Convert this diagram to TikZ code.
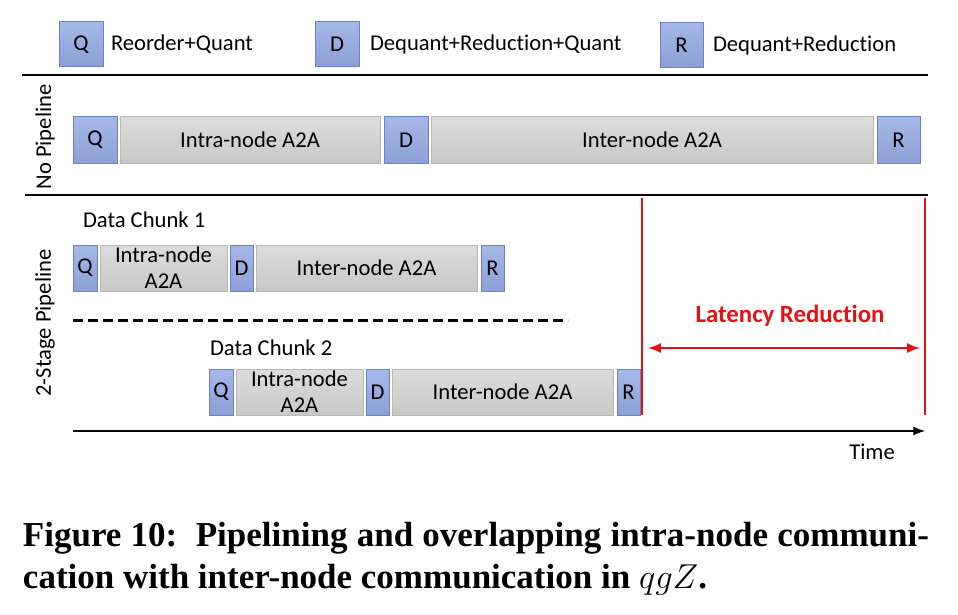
\documentclass[tikz,border=0pt]{standalone}
\usepackage{fontspec}
\setmainfont{Carlito}[Ligatures=NoCommon]
\newfontfamily\capfont{Liberation Serif}
\usepackage{tikz}
\usetikzlibrary{positioning}
\definecolor{optop}{RGB}{166,184,232}
\definecolor{opbot}{RGB}{140,160,215}
\definecolor{opline}{RGB}{105,130,196}
\definecolor{commtop}{RGB}{220,220,220}
\definecolor{commbot}{RGB}{200,200,200}
\definecolor{commline}{RGB}{184,184,184}
\definecolor{latred}{RGB}{232,16,16}
\newcommand\lblfont{\fontsize{11.3}{13}\selectfont}
\tikzset{every picture/.style={line width=1pt},
  opbox/.style={draw=opline,top color=optop,bottom color=opbot,line width=0.5pt,minimum height=23pt,inner sep=0pt,outer sep=0pt},
  commbox/.style={draw=commline,top color=commtop,bottom color=commbot,line width=0.5pt,minimum height=23pt,inner sep=0pt,outer sep=0pt,align=center}}

\begin{document}
\begin{tikzpicture}[x=0.5pt,y=-0.5pt,font=\lblfont]
\useasboundingbox (0,0) rectangle (958,615);
% legend
\node (lq) [opbox, minimum width=22pt, minimum height=22.5pt] at (81,44.5) {Q};
\node (lqt) [right=3.5pt of lq, inner sep=0pt] {Reorder+Quant};
\node (ld) [opbox, minimum width=22pt, minimum height=22.5pt] at (337,44) {D};
\node (ldt) [right=5pt of ld, inner sep=0pt] {Dequant+Reduction+Quant};
\node (lr) [opbox, minimum width=21.5pt, minimum height=22.5pt] at (681.5,45) {R};
\node (lrt) [right=4.5pt of lr, inner sep=0pt] {Dequant+Reduction};

\draw (22,75) -- (928,75);
\draw (25,195) -- (928,195);

% no pipeline
\node (nopipe) [rotate=90] at (45,137) {No Pipeline};
\node (q0) [opbox, minimum width=22pt] at (95,140) {Q};
\node (intra0) [commbox, right=1.5pt of q0, minimum width=130pt] {Intra-node A2A};
\node (d0) [opbox, right=2pt of intra0, minimum width=22pt] {D};
\node (inter0) [commbox, right=1.5pt of d0, minimum width=221pt] {Inter-node A2A};
\node (r0) [opbox, right=2pt of inter0, minimum width=21.5pt] {R};

% 2-stage pipeline
\node (twostage) [rotate=90] at (45,323) {2-Stage Pipeline};
\node (chunk1) [anchor=west, inner sep=0pt] at (82,220) {Data Chunk 1};
\node (chunk2) [anchor=west, inner sep=0pt] at (209,348) {Data Chunk 2};
\foreach \i/\x/\y in {1/85/268,2/221/392} {
  \node (q\i) [opbox, minimum width=12pt] at (\x,\y) {Q};
  \node (intra\i) [commbox, right=1.5pt of q\i, minimum width=63.5pt] {Intra-node\\A2A};
  \node (d\i) [opbox, right=1.5pt of intra\i, minimum width=11.5pt] {D};
  \node (inter\i) [commbox, right=1.5pt of d\i, minimum width=110.5pt] {Inter-node A2A};
  \node (r\i) [opbox, right=2pt of inter\i, minimum width=11.5pt] {R};
}
\coordinate (dash0) at (73,320);
\coordinate (dash1) at (568,320);
\draw[line width=1.5pt, dash pattern=on 5pt off 2.5pt] (dash0) -- (dash1);

% latency reduction
\coordinate (lat0) at (642,198);
\coordinate (lat1) at (925,198);
\draw[latred, line width=1.25pt] (lat0) -- (lat0 |- r2.south);
\draw[latred, line width=1.25pt] (lat1) -- (lat1 |- r2.south);
\coordinate (arr0) at (648,348);
\coordinate (arr1) at (920,348);
\draw[latex-latex, latred, line width=1.2pt] (arr0) -- (arr1);
\node (lat) [text=latred, font=\fontsize{12.4}{14}\selectfont\bfseries] at (790,316) {Latency Reduction};

% time axis
\coordinate (t0) at (73,431);
\coordinate (t1) at (925,431);
\draw[-latex] (t0) -- (t1);
\node (time) at (872,452) {Time};

% caption
\node (cap) [anchor=north west, text width=453pt, align=justify, inner sep=0pt, font=\capfont\bfseries\fontsize{17.5}{21}\selectfont] at (22,521) {Figure 10:\ \ Pipelining and overlapping intra-node communi-\linebreak cation with inter-node communication in $qgZ$.};
\end{tikzpicture}
\end{document}
